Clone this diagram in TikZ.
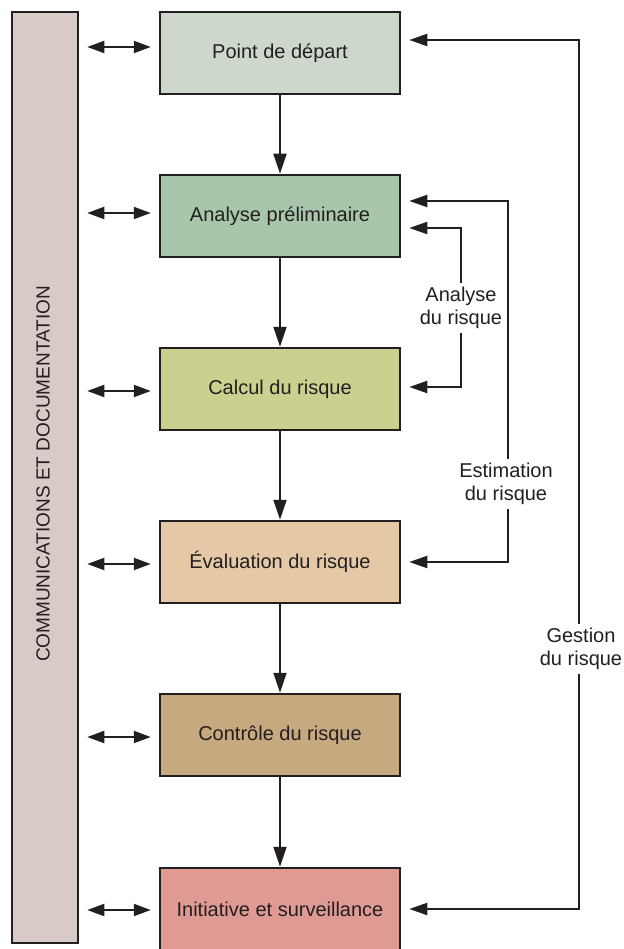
\documentclass[tikz,border=0pt]{standalone}
\usepackage{fontspec}
\setmainfont{Liberation Sans}
\usetikzlibrary{arrows.meta}
\definecolor{ink}{HTML}{231F20}
\definecolor{cbar}{HTML}{D8CAC6}
\definecolor{cA}{HTML}{CED7CC}
\definecolor{cB}{HTML}{A7C6AB}
\definecolor{cC}{HTML}{CBD08F}
\definecolor{cD}{HTML}{E5C8A6}
\definecolor{cE}{HTML}{C7A97F}
\definecolor{cF}{HTML}{DF9B93}
\tikzset{
  stagebox/.style={draw=ink, line width=2.5pt, minimum width=240pt, minimum height=82pt, inner sep=0pt, text=ink, font=\fontsize{20}{23}\selectfont},
  conn/.style={draw=ink, line width=2pt, -{Triangle[length=20pt,width=13pt]}},
  dbl/.style={draw=ink, line width=2pt, {Triangle[length=17pt,width=12pt]}-{Triangle[length=17pt,width=12pt]}, shorten <=8pt, shorten >=8pt},
  fb/.style={draw=ink, line width=2pt, {Triangle[length=18pt,width=12pt]}-{Triangle[length=18pt,width=12pt]}, shorten <=8pt, shorten >=8pt, line join=miter},
  fblabel/.style={fill=white, inner sep=4pt, align=center, text=ink, font=\fontsize{20}{23}\selectfont}
}
\begin{document}
\begin{tikzpicture}[x=1pt,y=-1pt]
\useasboundingbox (0,0) rectangle (623,949);
\fill[white] (0,0) rectangle (623,949);
\node[draw=ink, line width=2.5pt, fill=cbar, minimum width=66pt, minimum height=931pt, inner sep=0pt] (bar) at (45,477.5) {};
\node[rotate=90, text=ink, font=\fontsize{19}{22}\selectfont] (bartext) at (43,474) {COMMUNICATIONS ET DOCUMENTATION};
\node[stagebox, fill=cA] (b1) at (280,53) {Point de départ};
\node[stagebox, fill=cB] (b2) at (280,216) {Analyse préliminaire};
\node[stagebox, fill=cC] (b3) at (280,389) {Calcul du risque};
\node[stagebox, fill=cD] (b4) at (280,562) {Évaluation du risque};
\node[stagebox, fill=cE] (b5) at (280,735) {Contrôle du risque};
\node[stagebox, fill=cF] (b6) at (280,909) {Initiative et surveillance};
% vertical flow
\draw[conn] (b1) -- (b2);
\draw[conn] (b2) -- (b3);
\draw[conn] (b3) -- (b4);
\draw[conn] (b4) -- (b5);
\draw[conn] (b5) -- (b6);
% communications double arrows
\draw[dbl] ([yshift=6pt]bar.east |- b1) -- ([yshift=6pt]b1.west);
\draw[dbl] ([yshift=3pt]bar.east |- b2) -- ([yshift=3pt]b2.west);
\draw[dbl] ([yshift=-2pt]bar.east |- b3) -- ([yshift=-2pt]b3.west);
\draw[dbl] ([yshift=-2pt]bar.east |- b4) -- ([yshift=-2pt]b4.west);
\draw[dbl] ([yshift=-2pt]bar.east |- b5) -- ([yshift=-2pt]b5.west);
\draw[dbl] ([yshift=-1pt]bar.east |- b6) -- ([yshift=-1pt]b6.west);
% feedback loops
\coordinate (ax) at (461,300);
\coordinate (ex) at (508,400);
\coordinate (gx) at (579,500);
\draw[fb] ([yshift=-12pt]b2.east) -| (ax) |- ([yshift=2pt]b3.east);
\draw[fb] ([yshift=15pt]b2.east) -| (ex) |- (b4.east);
\draw[fb] ([yshift=13pt]b1.east) -| (gx) |- (b6.east);
\node[fblabel] (la) at (461,308) {Analyse\\du risque};
\node[fblabel] (le) at (506,484) {Estimation\\du risque};
\node[fblabel] (lg) at (581,649) {Gestion\\du risque};
\end{tikzpicture}
\end{document}
